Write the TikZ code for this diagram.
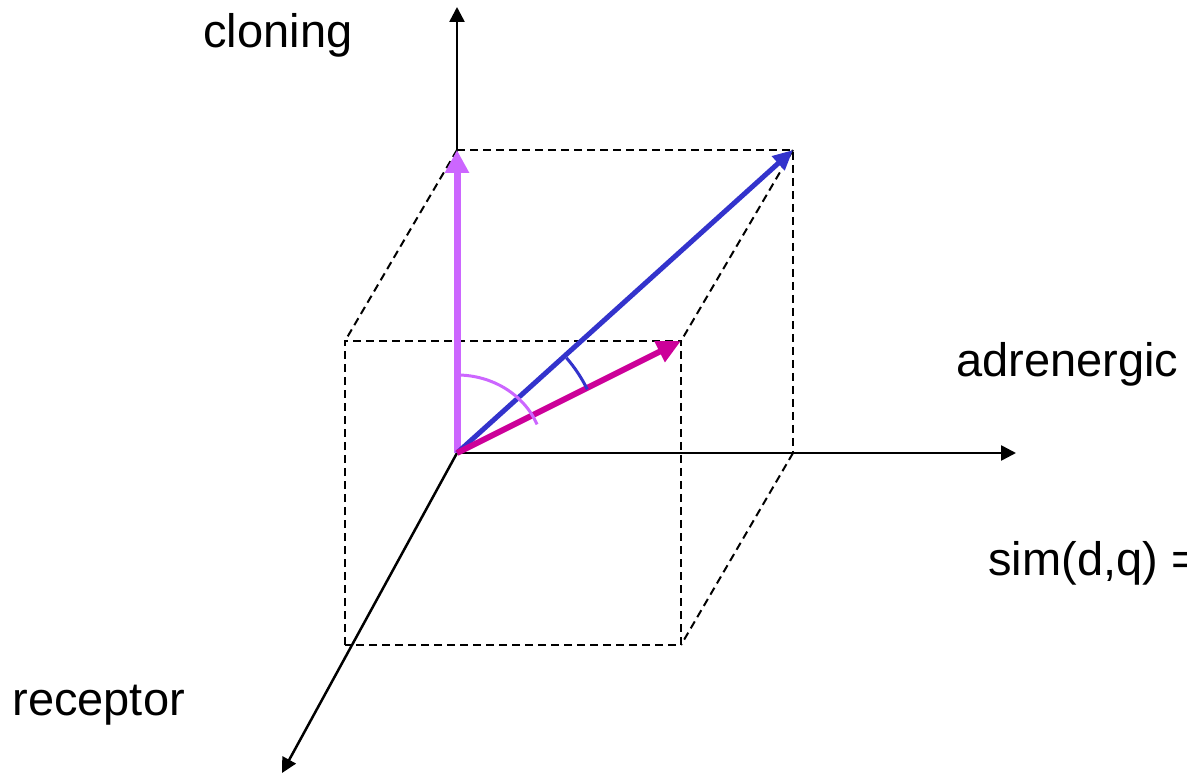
\documentclass[tikz,border=0pt]{standalone}
\usepackage{fontspec}
\setmainfont{Liberation Sans}
\usetikzlibrary{arrows.meta}
\definecolor{violetv}{HTML}{CC66FF}
\definecolor{bluev}{HTML}{3333CC}
\definecolor{magv}{HTML}{CC0099}
\begin{document}
\begin{tikzpicture}[x=0.5pt,y=-0.5pt,
  axis/.style={line width=1.25pt,-{Triangle[length=7.5pt,width=7.5pt]}},
  cubeedge/.style={line width=1pt,dash pattern=on 4pt off 2.5pt},
  lbl/.style={font=\fontsize{23.5}{28}\selectfont,anchor=base west,inner sep=0pt},
  vec/.style={line width=#1},
  anglearc/.style={line width=1.5pt}]
\useasboundingbox (0,0) rectangle (1187,774);
% coordinates
\coordinate (O) at (457,453);
\coordinate (ytip) at (457,7);
\coordinate (xtip) at (1016,453);
\coordinate (ztip) at (282,773);
\coordinate (BTL) at (457,150);
\coordinate (BTR) at (793,150);
\coordinate (BBR) at (793,453);
\coordinate (FTL) at (345,341);
\coordinate (FTR) at (681,341);
\coordinate (FBR) at (681,645);
\coordinate (FBL) at (345,645);
% cube
\draw[cubeedge] (BTL) -- (BTR) -- (BBR);
\draw[cubeedge] (FBL) -- (FTL) -- (FTR) -- (FBR) -- (FBL);
\draw[cubeedge] (BTL) -- (FTL);
\draw[cubeedge] (BTR) -- (FTR);
\draw[cubeedge] (BBR) -- (FBR);
% axes
\draw[axis] (O) -- (ytip);
\draw[axis] (O) -- (xtip);
\draw[axis] (O) -- (ztip);
% vectors
\draw[violetv,line width=3.5pt,-{Triangle[length=11.5pt,width=11.5pt]}] (O) -- (BTL);
\draw[bluev,line width=2.5pt,-{Triangle[length=10pt,width=9pt]}] (O) -- (BTR);
\draw[magv,line width=3pt,-{Triangle[length=12pt,width=11pt]}] (O) -- (FTR);
% angle arcs
\draw[violetv,anglearc,shift={(O)}] (0,-78) arc[start angle=90,end angle=21.5,x radius=43pt,y radius=39pt];
\draw[bluev,anglearc,shift={(O)}] (41:72.5pt) arc[start angle=41,end angle=26,radius=72.5pt];
% labels
\node[lbl] (cl) at (203,48) {cloning};
\node[lbl] (ad) at (956,377) {adrenergic};
\node[lbl] (re) at (12,715) {receptor};
\node[lbl] (si) at (988,575) {sim(d,q) =};
\end{tikzpicture}
\end{document}
